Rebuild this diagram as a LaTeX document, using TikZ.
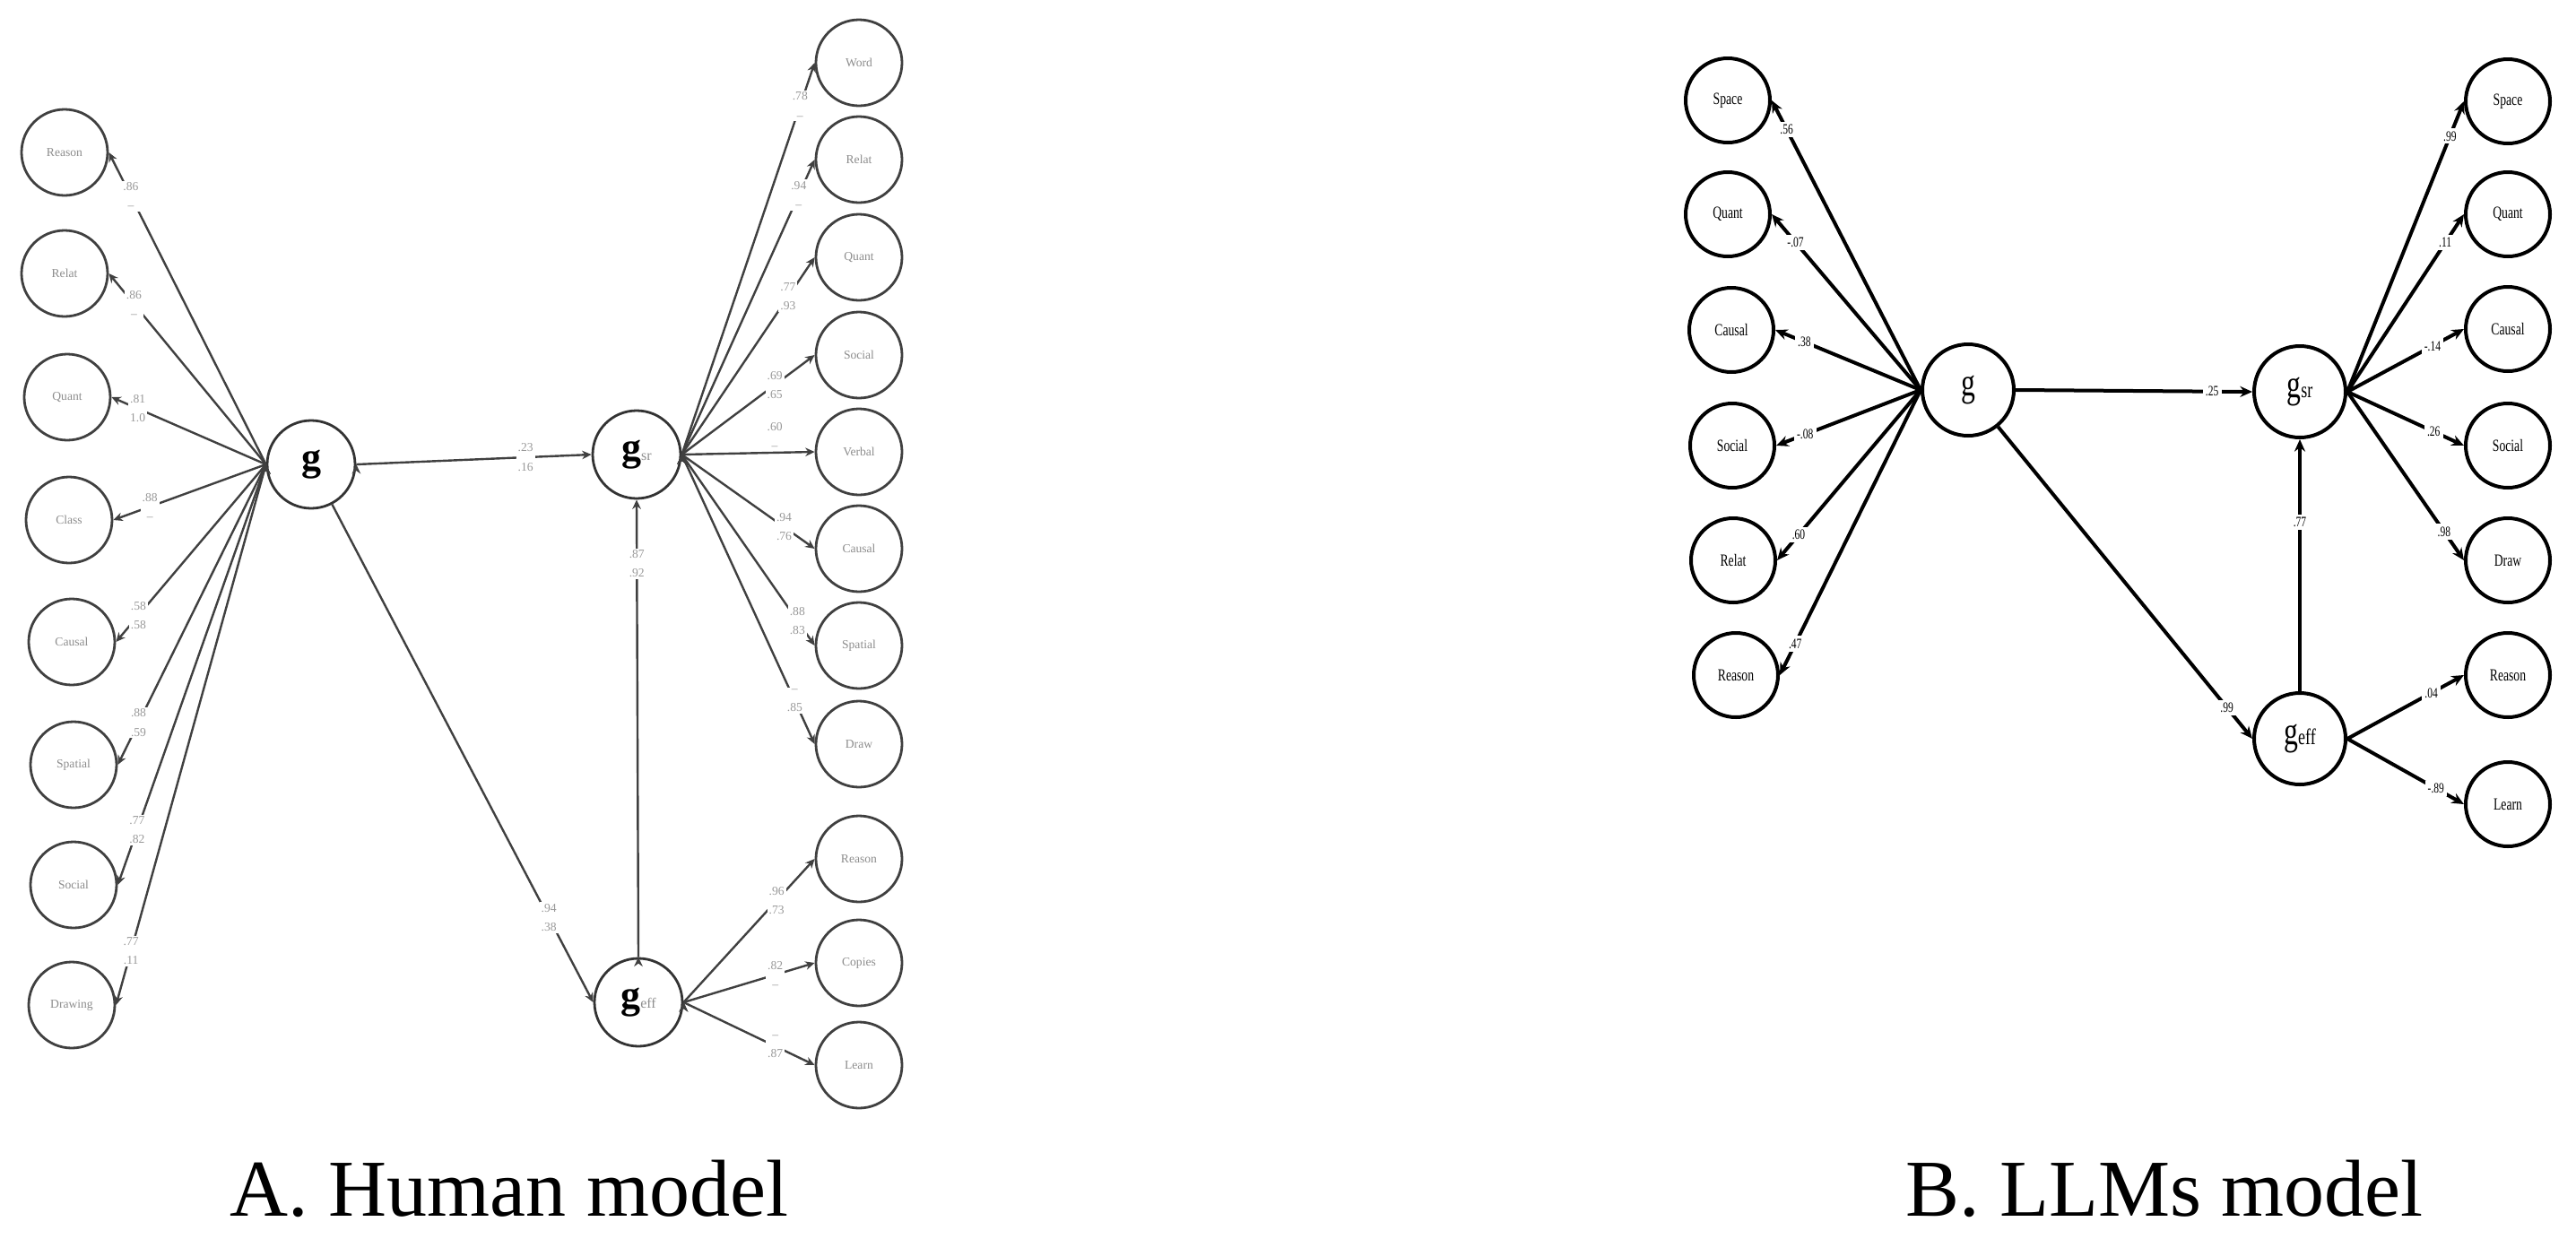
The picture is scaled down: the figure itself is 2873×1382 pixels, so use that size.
\documentclass[tikz,border=0pt]{standalone}
\usepackage{fontspec}
\setmainfont{Liberation Serif}
\newfontfamily\narrowserif[FakeStretch=0.72]{Liberation Serif}
\usetikzlibrary{arrows.meta}

\begin{document}
\begin{tikzpicture}[x=0.25pt,y=-0.25pt,
    >={Stealth[length=3.4pt,width=3pt]},
    obsB/.style={circle,draw,line width=1pt,minimum size=23.5pt,inner sep=0pt,font=\narrowserif\fontsize{4.75}{5}\selectfont},
    latB/.style={circle,draw,line width=1pt,minimum size=25.5pt,inner sep=0pt,font=\narrowserif},
    wB/.style={fill=white,inner sep=0.8pt,font=\narrowserif\fontsize{4}{4}\selectfont},
    linkB/.style={->,line width=1pt},
    obsA/.style={circle,draw=black!75,line width=0.7pt,minimum size=24pt,inner sep=0pt,text=black!45,font=\fontsize{3.4}{4}\selectfont},
    latA/.style={circle,draw=black!80,line width=0.7pt,minimum size=24.5pt,inner sep=0pt},
    wA/.style={fill=white,inner sep=0.5pt,align=center,text=black!40,font=\fontsize{3.4}{5.3}\selectfont},
    linkA/.style={-{Stealth[length=2.6pt,width=2.4pt]},line width=0.6pt,draw=black!75},
    caption/.style={font=\fontsize{22.5}{24}\selectfont,anchor=base}]

  \useasboundingbox (0,0) rectangle (2873,1382);

  % A. Human model
  \node[latA] (ga)    at (347,518)  {\fontsize{11}{11}\selectfont\bfseries g};
  \node[latA] (gsra)  at (710,507)  {{\fontsize{11}{11}\selectfont\bfseries g}{\color{black!45}\fontsize{4}{4}\selectfont sr}};
  \node[latA] (geffa) at (712,1118) {{\fontsize{11}{11}\selectfont\bfseries g}{\color{black!45}\fontsize{4}{4}\selectfont eff}};

  \node[obsA] (reasonl)  at (72,170)  {Reason};
  \node[obsA] (relatl)   at (72,305)  {Relat};
  \node[obsA] (quantl)   at (75,443)  {Quant};
  \node[obsA] (classl)   at (77,580)  {Class};
  \node[obsA] (causall)  at (80,716)  {Causal};
  \node[obsA] (spatiall) at (82,853)  {Spatial};
  \node[obsA] (sociall)  at (82,987)  {Social};
  \node[obsA] (drawingl) at (80,1121) {Drawing};

  \node[obsA] (wordr)    at (958,70)   {Word};
  \node[obsA] (relatr)   at (958,178)  {Relat};
  \node[obsA] (quantr)   at (958,287)  {Quant};
  \node[obsA] (socialr)  at (958,396)  {Social};
  \node[obsA] (verbalr)  at (958,504)  {Verbal};
  \node[obsA] (causalr)  at (958,612)  {Causal};
  \node[obsA] (spatialr) at (958,720)  {Spatial};
  \node[obsA] (drawr)    at (958,830)  {Draw};
  \node[obsA] (reasonr)  at (958,958)  {Reason};
  \node[obsA] (copiesr)  at (958,1074) {Copies};
  \node[obsA] (learnr)   at (958,1188) {Learn};

  \path[linkA] (ga.west) edge node[wA,pos=.86]  {.86\\--}  (reasonl.east);
  \path[linkA] (ga.west) edge node[wA,pos=.84]  {.86\\--}  (relatl.east);
  \path[linkA] (ga.west) edge node[wA,pos=.83]  {.81\\1.0} (quantl.east);
  \path[linkA] (ga.west) edge node[wA,pos=.76]  {.88\\--}  (classl.east);
  \path[linkA] (ga.west) edge node[wA,pos=.85]  {.58\\.58} (causall.east);
  \path[linkA] (ga.west) edge node[wA,pos=.86]  {.88\\.59} (spatiall.east);
  \path[linkA] (ga.west) edge node[wA,pos=.87]  {.77\\.82} (sociall.east);
  \path[linkA] (ga.west) edge node[wA,pos=.90]  {.77\\.11} (drawingl.east);

  \path[linkA] (ga.east)     edge node[wA,pos=.72] {.23\\.16} (gsra.west);
  \path[linkA] (geffa.north) edge node[wA,pos=.86] {.87\\.92} (gsra.south);
  \path[linkA] (ga)          edge node[wA,pos=.83] {.94\\.38} (geffa.west);

  \path[linkA] (gsra.east) edge node[wA,pos=.89] {.78\\--}  (wordr.west);
  \path[linkA] (gsra.east) edge node[wA,pos=.88] {.94\\--}  (relatr.west);
  \path[linkA] (gsra.east) edge node[wA,pos=.80] {.77\\.93} (quantr.west);
  \path[linkA] (gsra.east) edge node[wA,pos=.70] {.69\\.65} (socialr.west);
  \path[linkA] (gsra.east) edge node[wA,fill=none,pos=.70,anchor=south] {.60\\--} (verbalr.west);
  \path[linkA] (gsra.east) edge node[wA,pos=.77] {.94\\.76} (causalr.west);
  \path[linkA] (gsra.east) edge node[wA,pos=.87] {.88\\.83} (spatialr.west);
  \path[linkA] (gsra.east) edge node[wA,pos=.85] {--\\.85}  (drawr.west);

  \path[linkA] (geffa.east) edge node[wA,pos=.71] {.96\\.73} (reasonr.west);
  \path[linkA] (geffa.east) edge node[wA,pos=.70] {.82\\--}  (copiesr.west);
  \path[linkA] (geffa.east) edge node[wA,pos=.70] {--\\.87}  (learnr.west);

  % B. LLMs model
  \node[latB] (gb)    at (2195,435) {\fontsize{11}{11}\selectfont g};
  \node[latB] (gsrb)  at (2565,437) {{\fontsize{11}{11}\selectfont g}{\fontsize{6.25}{6.25}\selectfont sr}};
  \node[latB] (geffb) at (2565,824) {{\fontsize{11}{11}\selectfont g}{\fontsize{6.25}{6.25}\selectfont eff}};

  \node[obsB] (spacel)   at (1927,112) {Space};
  \node[obsB] (quantbl)  at (1927,239) {Quant};
  \node[obsB] (causalbl) at (1931,368) {Causal};
  \node[obsB] (socialbl) at (1932,497) {Social};
  \node[obsB] (relatbl)  at (1933,625) {Relat};
  \node[obsB] (reasonbl) at (1936,753) {Reason};

  \node[obsB] (spacer)   at (2797,113) {Space};
  \node[obsB] (quantbr)  at (2797,239) {Quant};
  \node[obsB] (causalbr) at (2797,367) {Causal};
  \node[obsB] (socialbr) at (2797,497) {Social};
  \node[obsB] (drawbr)   at (2797,625) {Draw};
  \node[obsB] (reasonbr) at (2797,753) {Reason};
  \node[obsB] (learnbr)  at (2797,897) {Learn};

  \path[linkB] (gb.west) edge node[wB,pos=.90] {.56}  (spacel.east);
  \path[linkB] (gb.west) edge node[wB,pos=.84] {-.07} (quantbl.east);
  \path[linkB] (gb.west) edge node[wB,pos=.80] {.38}  (causalbl.east);
  \path[linkB] (gb.west) edge node[wB,pos=.80] {-.08} (socialbl.east);
  \path[linkB] (gb.west) edge node[wB,pos=.85] {.60}  (relatbl.east);
  \path[linkB] (gb.west) edge node[wB,pos=.89] {.47}  (reasonbl.east);

  \path[linkB] (gb.east)     edge node[wB,pos=.83] {.25} (gsrb.west);
  \path[linkB] (geffb.north) edge node[wB,pos=.67] {.77} (gsrb.south);
  \path[linkB] (gb)          edge node[wB,pos=.90] {.99} (geffb.west);

  \path[linkB] (gsrb.east) edge node[wB,pos=.88] {.99}  (spacer.west);
  \path[linkB] (gsrb.east) edge node[wB,pos=.84] {.11}  (quantbr.west);
  \path[linkB] (gsrb.east) edge node[wB,pos=.73] {-.14} (causalbr.west);
  \path[linkB] (gsrb.east) edge node[wB,pos=.74] {.26}  (socialbr.west);
  \path[linkB] (gsrb.east) edge node[wB,pos=.83] {.98}  (drawbr.west);

  \path[linkB] (geffb.east) edge node[wB,pos=.72] {.04}  (reasonbr.west);
  \path[linkB] (geffb.east) edge node[wB,pos=.76] {-.89} (learnbr.west);

  % captions
  \node[caption] (capa) at (568,1356)  {A. Human model};
  \node[caption] (capb) at (2414,1356) {B. LLMs model};
\end{tikzpicture}
\end{document}
